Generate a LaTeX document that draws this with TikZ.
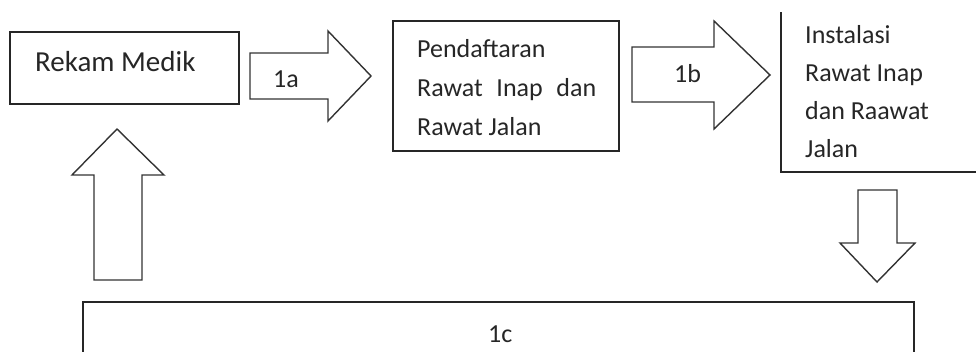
\documentclass[tikz,border=0pt]{standalone}
\usepackage{fontspec}
\setmainfont{Carlito}
\begin{document}
\begin{tikzpicture}[x=1pt,y=-1pt,
  boxline/.style={draw=black!85, line width=1.6pt},
  arrowline/.style={draw=black!80, line width=1.4pt, line join=miter},
  lbl/.style={anchor=base west, inner sep=0pt, font=\fontsize{26}{30}\selectfont, text=black!85}]
\useasboundingbox (0,0) rectangle (976,351);
% boxes
\node[boxline, anchor=north west, minimum width=229pt, minimum height=72pt, inner sep=0pt] (rm) at (9,31) {};
\node[boxline, anchor=north west, minimum width=226pt, minimum height=130pt, inner sep=0pt] (pd) at (392,20) {};
\coordinate (isTop) at (781,12);
\coordinate (isCorner) at (781,172);
\coordinate (isRight) at (977,172);
\draw[boxline] (isTop) -- (isCorner) -- (isRight);
\coordinate (cL) at (83,352);
\coordinate (cTL) at (83,302);
\coordinate (cTR) at (914,302);
\coordinate (cR) at (914,352);
\draw[boxline] (cL) -- (cTL) -- (cTR) -- (cR);
% texts
\node[lbl, font=\fontsize{29}{33}\selectfont] (trm) at (35,71) {Rekam Medik};
\node[lbl] (tp1) at (417,57) {Pendaftaran};
\node[lbl] (tp2) at (417,96) {\hbox to 179pt{Rawat\hfill Inap\hfill dan}};
\node[lbl] (tp3) at (417,135) {Rawat Jalan};
\node[lbl] (ti1) at (805,43) {Instalasi};
\node[lbl] (ti2) at (805,81) {Rawat Inap};
\node[lbl] (ti3) at (805,119) {dan Raawat};
\node[lbl] (ti4) at (805,157) {Jalan};
% block arrows
\draw[arrowline] (250,53) -- (328,53) -- (328,31) -- (371,76) -- (328,121) -- (328,99) -- (250,99) -- cycle;
\node[lbl] (t1a) at (273,87) {1a};
\draw[arrowline] (632,47) -- (714,47) -- (714,21) -- (770,75) -- (714,129) -- (714,102) -- (632,102) -- cycle;
\node[lbl] (t1b) at (674,82) {1b};
\draw[arrowline] (858,190) -- (897,190) -- (897,243) -- (915,243) -- (877,282) -- (840,243) -- (858,243) -- cycle;
\draw[arrowline] (94,280) -- (94,175) -- (72,175) -- (117,129) -- (164,175) -- (142,175) -- (142,280) -- cycle;
\node[lbl] (t1c) at (488,342) {1c};
\end{tikzpicture}
\end{document}
